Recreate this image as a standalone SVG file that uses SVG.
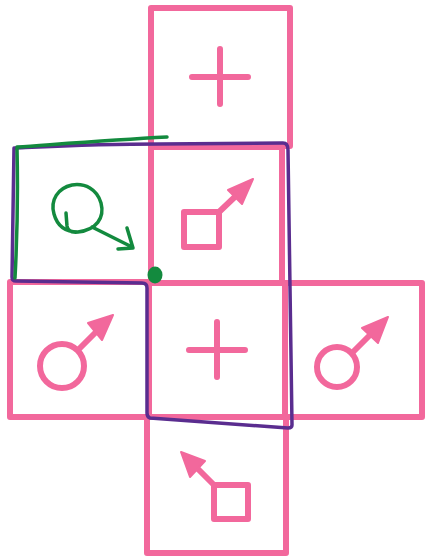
<svg xmlns="http://www.w3.org/2000/svg" width="426" height="557" viewBox="0 0 426 557">
<defs>
<style>
.frame{fill:none;stroke:#f2689c;stroke-width:6;stroke-linejoin:round}
.sym{fill:none;stroke:#f2689c;stroke-width:6;stroke-linecap:round;stroke-linejoin:round}
.head{fill:#f2689c;stroke:#f2689c;stroke-width:2;stroke-linejoin:round}
.purple{fill:none;stroke:#5a2d8f;stroke-width:3.5;stroke-linejoin:round;stroke-linecap:round}
.green{fill:none;stroke:#138a3e;stroke-width:3.5;stroke-linecap:round;stroke-linejoin:round}
</style>
</defs>
<rect width="426" height="557" fill="#ffffff"/>
<g id="face-top">
<rect class="frame" x="151" y="8" width="139" height="138"/>
<path class="sym" d="M192,77 H248 M220,49 V104"/>
</g>
<g id="face-upper">
<rect class="frame" x="151" y="147" width="131" height="136"/>
<rect class="sym" x="184" y="212" width="35" height="35"/>
<path class="sym" d="M219,212 L240,192"/>
<path class="head" d="M253,179 L228,190 L242,204 Z"/>
</g>
<g id="face-left">
<rect class="frame" x="10" y="282" width="139" height="135"/>
<circle class="sym" cx="62" cy="366" r="22"/>
<path class="sym" d="M78,350 L100,328"/>
<path class="head" d="M113,315 L88,323 L102,340 Z"/>
</g>
<g id="face-center">
<rect class="frame" x="149" y="283" width="136" height="134"/>
<path class="sym" d="M189,350 H245 M217,322 V377"/>
</g>
<g id="face-right">
<rect class="frame" x="285" y="283" width="137" height="134"/>
<circle class="sym" cx="337" cy="367" r="20"/>
<path class="sym" d="M352,353 L372,333"/>
<path class="head" d="M388,317 L362,328 L378,343 Z"/>
</g>
<g id="face-bottom">
<rect class="frame" x="147" y="417" width="139" height="136"/>
<rect class="sym" x="214" y="485" width="34" height="34"/>
<path class="sym" d="M214,485 L195,466"/>
<path class="head" d="M181,452 L190,477 L205,461 Z"/>
</g>
<g id="connectors">
<path class="purple" d="M14,148 C60,146 100,144 160,144 L283,143 Q288,143 288,150 L292,425 Q292,428 288,428 L150,418 Q147,417 147,413 L147,288 Q147,283 142,283 L16,281 Q12,281 12,277 L14,148 Z"/>
<path class="green" d="M17,147 C60,144 110,140 167,137 M17,148 C18,190 17,240 15,278"/>
<ellipse cx="155" cy="275" rx="7.5" ry="8.5" fill="#138a3e"/>
<path class="green" d="M66,213 L67,226 Q68,233 78,232 C96,230 105,218 101,203 C97,189 85,183 72,185 C58,188 50,200 54,214 C57,225 65,232 78,232 M92,227 L132,247 M118,249 L133,248 L127,228"/>
</g>
</svg>
